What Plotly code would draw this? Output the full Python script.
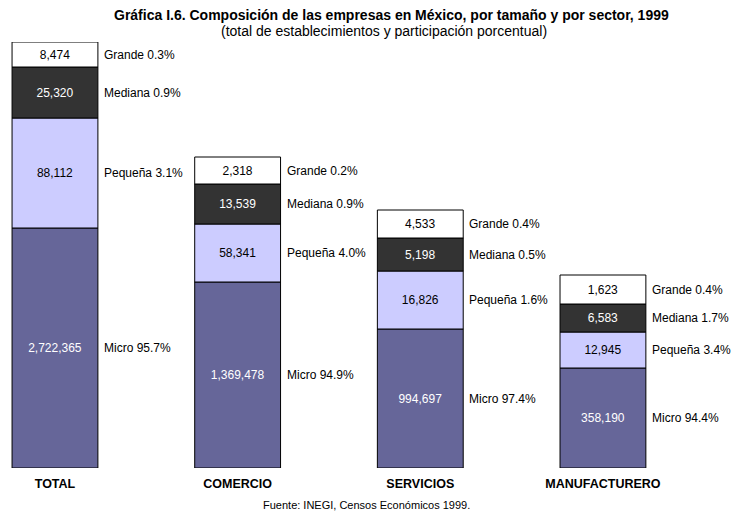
'''
    Composición de las empresas en México, por tamaño y por sector, 1999.
    Stacked bars (schematic, not to scale) with counts inside each
    segment and the share of each size class on the right.
'''

import plotly.graph_objects as go

sectors = ["TOTAL", "COMERCIO", "SERVICIOS", "MANUFACTURERO"]
sizes = ["Micro", "Pequeña", "Mediana", "Grande"]

# establishments per size class and sector
micro = [2722365, 1369478, 994697, 358190]
pequena = [88112, 58341, 16826, 12945]
mediana = [25320, 13539, 5198, 6583]
grande = [8474, 2318, 4533, 1623]

# participación porcentual
micro_pct = [95.7, 94.9, 97.4, 94.4]
pequena_pct = [3.1, 4.0, 1.6, 3.4]
mediana_pct = [0.9, 0.9, 0.5, 1.7]
grande_pct = [0.3, 0.2, 0.4, 0.4]

# the source chart is schematic: segment heights as drawn
micro_drawn = [240, 186, 139, 100]
pequena_drawn = [110, 58, 58, 36]
mediana_drawn = [51, 40, 33, 28]
grande_drawn = [25, 27, 28, 29]

counts = [micro, pequena, mediana, grande]
shares = [micro_pct, pequena_pct, mediana_pct, grande_pct]
drawn = [micro_drawn, pequena_drawn, mediana_drawn, grande_drawn]

FILL = ["#666699", "#ccccff", "#333333", "#ffffff"]
TEXT = ["white", "black", "white", "black"]
FONT = "Liberation Sans, Arial, sans-serif"
BAR_W = 0.47

fig = go.Figure()
base = [0] * len(sectors)
for k, size in enumerate(sizes):
    fig.add_trace(go.Bar(
        x=list(range(len(sectors))),
        y=drawn[k],
        base=base,
        width=BAR_W,
        name=size,
        text=[f"{v:,}" for v in counts[k]],
        textposition="inside",
        insidetextanchor="middle",
        textangle=0,
        textfont=dict(color=TEXT[k], size=12, family=FONT),
        marker=dict(color=FILL[k], line=dict(color="black", width=1)),
        showlegend=False,
        hoverinfo="skip",
    ))
    # share label to the right of each segment
    for i in range(len(sectors)):
        fig.add_annotation(
            x=i + BAR_W / 2, y=base[i] + drawn[k][i] / 2,
            xref="x", yref="y", xanchor="left", yanchor="middle",
            xshift=4, showarrow=False,
            text=f"{size} {shares[k][i]:.1f}%",
            font=dict(size=12, color="black", family=FONT),
        )
    base = [b + h for b, h in zip(base, drawn[k])]

fig.add_annotation(
    x=0.532, y=1.0634, xref="paper", yref="paper", showarrow=False,
    yanchor="middle",
    text="<b>Gráfica I.6. Composición de las empresas en México, por tamaño y por sector, 1999</b>",
    font=dict(size=14, color="black", family=FONT),
)
fig.add_annotation(
    x=0.522, y=1.0258, xref="paper", yref="paper", showarrow=False,
    yanchor="middle",
    text="(total de establecimientos y participación porcentual)",
    font=dict(size=14, color="black", family=FONT),
)
fig.add_annotation(
    x=0.498, y=-0.087, xref="paper", yref="paper", showarrow=False,
    yanchor="middle",
    text="Fuente: INEGI, Censos Económicos 1999.",
    font=dict(size=11, color="black", family=FONT),
)

fig.update_layout(
    width=735, height=514,
    margin=dict(l=0, r=0, t=42, b=46),
    paper_bgcolor="white", plot_bgcolor="white",
    barmode="overlay",
    uniformtext=dict(minsize=12, mode="show"),
    font=dict(family=FONT, size=12, color="black"),
    xaxis=dict(
        range=[-0.301, 3.723],
        tickvals=list(range(len(sectors))),
        ticktext=[f"<b>{s}</b>" for s in sectors],
        showgrid=False, zeroline=False, showline=False,
        ticks="", ticklabelstandoff=6,
        tickfont=dict(size=12.5, family=FONT),
    ),
    yaxis=dict(range=[0, 426], visible=False),
)

# the page's default body margin would push the figure off the window
fig.write_html(
    "out.html",
    config={"displayModeBar": False},
    post_script="document.body.style.margin='0';",
)
